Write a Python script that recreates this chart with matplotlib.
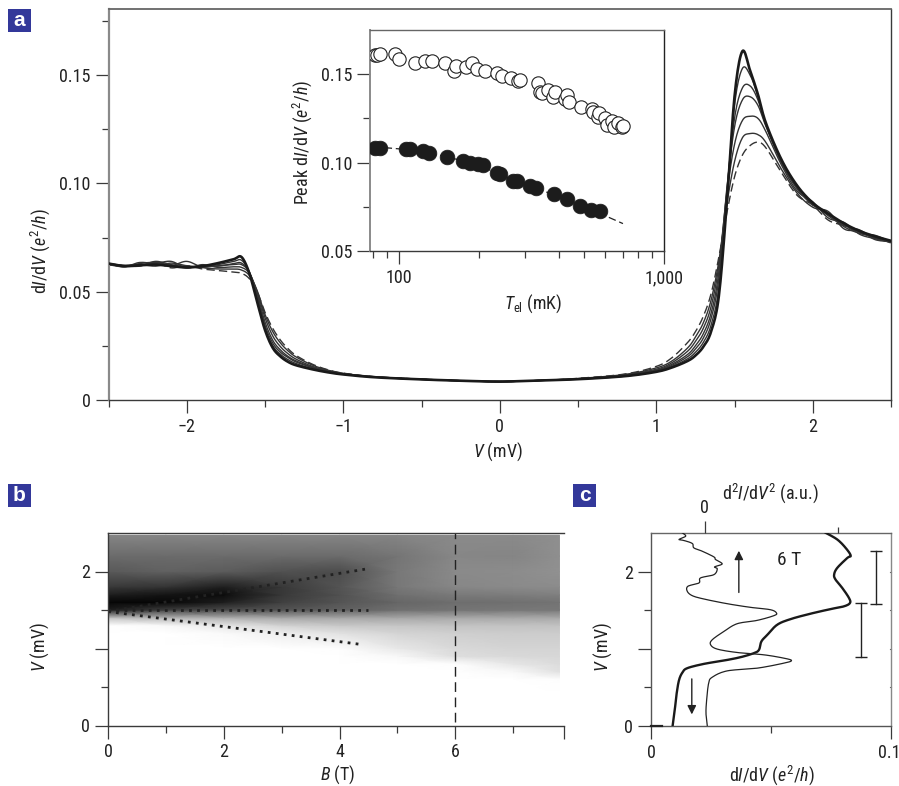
import numpy as np
import matplotlib
matplotlib.use("Agg")
import matplotlib.pyplot as plt
from matplotlib import font_manager
from matplotlib.patches import Rectangle
from matplotlib.ticker import FixedLocator, NullFormatter
from matplotlib.transforms import ScaledTranslation

installed = {f.name for f in font_manager.fontManager.ttflist}
BASE = 'Liberation Sans'
for cand in ['Liberation Sans Narrow', 'Roboto Condensed', 'Open Sans Condensed', 'Noto Sans Condensed']:
    if cand in installed:
        BASE = cand
        break
plt.rcParams['font.family'] = [BASE, 'Liberation Sans', 'DejaVu Sans']
plt.rcParams['mathtext.fontset'] = 'custom'
plt.rcParams['mathtext.rm'] = BASE
plt.rcParams['mathtext.it'] = BASE + ':italic'
plt.rcParams['mathtext.bf'] = BASE + ':bold'

# ---------- Panel a: dI/dV vs V for several temperatures ----------
V_a = [-2.5, -2.4, -2.3, -2.2, -2.1, -2.0, -1.9, -1.8, -1.7, -1.65, -1.6, -1.55, -1.5, -1.45, -1.4, -1.35,
       -1.3, -1.2, -1.1, -1.0, -0.8, -0.5, -0.25, 0, 0.25, 0.5, 0.8, 1.0, 1.1, 1.2, 1.25, 1.3, 1.35, 1.4,
       1.45, 1.5, 1.55, 1.6, 1.65, 1.7, 1.8, 1.9, 2.0, 2.1, 2.2, 2.3, 2.4, 2.5]
curve1 = [.0630, .0618, .0622, .0625, .0618, .0612, .0618, .0632, .0650, .0660, .0585, .0452, .0323, .0240, .0200, .0175,
          .0160, .0142, .0128, .0118, .0105, .0095, .0089, .0085, .0090, .0096, .0110, .0130, .0150, .0180, .0205, .0245, .0315, .0480,
          .0900, .1400, .1610, .1520, .1410, .1280, .1110, .0990, .0910, .0860, .0815, .0780, .0755, .0735]
curve2 = [.0628, .0622, .0626, .0618, .0632, .0620, .0615, .0625, .0640, .0645, .0590, .0465, .0330, .0250, .0210, .0185,
          .0168, .0145, .0130, .0119, .0105, .0095, .0089, .0085, .0090, .0096, .0110, .0132, .0155, .0190, .0220, .0265, .0345, .0520,
          .0930, .1360, .1530, .1500, .1400, .1275, .1105, .0985, .0905, .0855, .0810, .0775, .0750, .0732]
curve3 = [.0625, .0615, .0630, .0635, .0622, .0610, .0620, .0618, .0630, .0632, .0590, .0478, .0345, .0262, .0220, .0195,
          .0175, .0150, .0132, .0120, .0106, .0095, .0089, .0085, .0090, .0097, .0112, .0135, .0160, .0200, .0235, .0285, .0375, .0560,
          .0960, .1300, .1440, .1450, .1385, .1270, .1100, .0980, .0910, .0850, .0805, .0785, .0745, .0735]
curve4 = [.0630, .0620, .0618, .0640, .0625, .0615, .0612, .0620, .0625, .0625, .0590, .0490, .0360, .0275, .0230, .0200,
          .0180, .0152, .0134, .0121, .0106, .0095, .0089, .0085, .0090, .0098, .0114, .0138, .0165, .0210, .0250, .0305, .0400, .0590,
          .0970, .1260, .1385, .1400, .1360, .1265, .1095, .0975, .0900, .0860, .0800, .0770, .0760, .0730]
curve5 = [.0625, .0618, .0625, .0630, .0640, .0610, .0625, .0612, .0615, .0612, .0585, .0500, .0380, .0295, .0245, .0212,
          .0188, .0156, .0136, .0122, .0107, .0096, .0089, .0085, .0090, .0098, .0116, .0142, .0172, .0225, .0270, .0330, .0430, .0620,
          .0950, .1180, .1290, .1310, .1300, .1240, .1085, .0965, .0915, .0840, .0820, .0765, .0745, .0728]
curve6 = [.0630, .0615, .0635, .0628, .0620, .0640, .0612, .0605, .0605, .0600, .0575, .0505, .0395, .0315, .0262, .0225,
          .0198, .0162, .0138, .0123, .0107, .0096, .0089, .0085, .0090, .0099, .0118, .0148, .0180, .0240, .0290, .0355, .0460, .0640,
          .0900, .1100, .1210, .1230, .1225, .1190, .1065, .0955, .0890, .0870, .0790, .0780, .0740, .0732]
curve7 = [.0625, .0620, .0620, .0635, .0610, .0620, .0605, .0598, .0590, .0585, .0560, .0500, .0405, .0330, .0275, .0235,
          .0205, .0166, .0140, .0124, .0108, .0096, .0089, .0085, .0090, .0100, .0120, .0155, .0195, .0265, .0315, .0385, .0490, .0660,
          .0860, .1030, .1130, .1175, .1190, .1165, .1050, .0945, .0900, .0830, .0805, .0770, .0750, .0725]

# ---------- Inset ----------
T_open = [81.2, 82.8, 84.8, 96.6, 100.3, 115.2, 125.3, 133.6, 149.6, 161.2, 163.6, 179, 188, 197.5, 211, 235, 245.5,
          264, 282, 286, 335, 339, 347.5, 366, 382, 388, 423, 429, 438, 486, 533, 538, 562, 570, 599, 611, 635, 648,
          673, 692, 702]
G_open = [.1606, .1609, .1615, .1613, .1585, .1562, .1572, .1572, .1562, .1519, .1547, .1543, .1562, .1532, .1517,
          .1504, .1491, .1477, .1464, .1468, .1449, .1398, .1396, .1411, .1370, .1402, .1358, .1383, .1345, .1317,
          .1302, .1289, .1257, .1279, .1251, .1213, .1236, .1204, .1223, .1200, .1208]
T_full = [81.2, 84.8, 106.3, 110, 123.5, 130, 151.3, 175, 185.3, 199.3, 208, 233.7, 240.5, 270, 278, 312, 329, 384.5,
          429, 482, 529, 574]
G_full = [.1085, .1085, .1075, .1075, .1068, .1053, .1034, .1011, .1000, .0991, .0987, .0940, .0936, .0898, .0894,
          .0868, .0855, .0823, .0792, .0757, .0732, .0726]
T_fit = [80, 105, 150, 200, 280, 390, 530, 700]
G_fit = [.1090, .1075, .1035, .0985, .0890, .0815, .0735, .0655]

# ---------- Panel b ----------
B_grid = [0, 1, 2, 3, 4, 5, 6, 7, 7.8]
V_grid = [0, 0.4, 0.6, 0.7, 0.8, 0.9, 1.0, 1.2, 1.3, 1.4, 1.5, 1.6, 1.7, 1.8, 2.0, 2.2, 2.47]
gray_rows = [
    [1.00, 1.00, 1.00, 1.00, 1.00, 1.00, 1.00, 1.00, 1.00],
    [1.00, 1.00, 1.00, 1.00, 1.00, 1.00, 1.00, 1.00, 1.00],
    [1.00, 1.00, 1.00, 1.00, 1.00, 1.00, 1.00, 1.00, 0.99],
    [1.00, 1.00, 1.00, 1.00, 1.00, 1.00, 1.00, 0.97, 0.88],
    [1.00, 1.00, 1.00, 1.00, 1.00, 1.00, 0.99, 0.90, 0.86],
    [1.00, 1.00, 1.00, 1.00, 1.00, 0.97, 0.87, 0.85, 0.84],
    [1.00, 1.00, 1.00, 1.00, 0.99, 0.91, 0.85, 0.83, 0.83],
    [1.00, 1.00, 0.98, 0.93, 0.88, 0.83, 0.81, 0.80, 0.80],
    [1.00, 0.97, 0.90, 0.82, 0.78, 0.77, 0.76, 0.76, 0.76],
    [0.75, 0.70, 0.68, 0.65, 0.65, 0.65, 0.66, 0.66, 0.66],
    [0.12, 0.25, 0.30, 0.33, 0.38, 0.44, 0.46, 0.47, 0.47],
    [0.02, 0.03, 0.12, 0.25, 0.33, 0.40, 0.43, 0.44, 0.45],
    [0.12, 0.08, 0.05, 0.22, 0.32, 0.44, 0.48, 0.49, 0.50],
    [0.22, 0.20, 0.12, 0.22, 0.33, 0.47, 0.53, 0.54, 0.55],
    [0.35, 0.38, 0.36, 0.32, 0.30, 0.47, 0.54, 0.55, 0.57],
    [0.42, 0.42, 0.42, 0.42, 0.42, 0.46, 0.53, 0.52, 0.56],
    [0.52, 0.52, 0.52, 0.52, 0.52, 0.52, 0.54, 0.54, 0.56],
]
B_upper = [0, 4.44]
V_upper = [1.48, 2.03]
B_mid = [0, 4.5]
V_mid = [1.5, 1.5]
B_lower = [0, 4.4]
V_lower = [1.48, 1.05]
B_cut = [6, 6]
V_cut = [0.05, 2.5]

# ---------- Panel c ----------
G_c = [.0090, .0099, .0107, .0117, .0131, .0151, .0221, .0304, .0374, .0429, .0450, .0460, .0485, .0526, .0582, .0665,
       .0749, .0804, .0829, .0825, .0797, .0769, .0763, .0776, .0818, .0832, .0811, .0776, .0728]
V_c = [0, .208, .424, .597, .693, .749, .805, .848, .892, .944, .987, 1.095, 1.182, 1.312, 1.385, 1.455,
       1.515, 1.550, 1.593, 1.658, 1.788, 1.896, 1.961, 2.048, 2.177, 2.208, 2.307, 2.416, 2.502]
D_c = [.018, .008, .013, .028, .055, .168, .393, .594, .652, .594, .444, .243, .093, .043, .055, .143, .243, .393,
       .519, .539, .494, .343, .168, -.008, -.095, -.133, -.128, -.045, -.033, .068, .093, .073, .130, .080, .068,
       -.020, -.083, -.095, -.158, -.195, -.145, -.170]
V_d = [0, .165, .338, .554, .632, .714, .749, .814, .848, .879, .922, .952, .996, 1.052, 1.117, 1.225, 1.325, 1.368,
       1.429, 1.463, 1.506, 1.537, 1.584, 1.645, 1.688, 1.745, 1.810, 1.853, 1.918, 1.961, 2.035, 2.061, 2.100, 2.156,
       2.190, 2.264, 2.307, 2.364, 2.403, 2.416, 2.459, 2.502]
bar_upper = [1.58, 2.264]
bar_lower = [0.90, 1.593]
bar_upper_x = [.0939, .0939]
bar_lower_x = [.0874, .0874]

W, H = 899, 786
fig = plt.figure(figsize=(W / 100, H / 100), dpi=100)
DK = '#3a3a3a'
GR = '#8a8a8a'
TXT = '#222222'
FS = 13


def px_axes(l, t, r, b, **kw):
    return fig.add_axes([l / W, 1 - b / H, (r - l) / W, (b - t) / H], **kw)


def smooth(x, y, n=10):
    """Catmull-Rom path through the read points (drawing only)."""
    p = np.column_stack([x, y]).astype(float)
    q = np.vstack([p[0], p, p[-1]])
    t = np.linspace(0, 1, n, endpoint=False)[:, None]
    out = []
    for i in range(1, len(q) - 2):
        a, b, c, d = q[i - 1], q[i], q[i + 1], q[i + 2]
        out.append(0.5 * (2 * b + (c - a) * t + (2 * a - 5 * b + 4 * c - d) * t ** 2 + (3 * b - a - 3 * c + d) * t ** 3))
    out.append(p[-1:])
    out = np.vstack(out)
    return out[:, 0], out[:, 1]


def pt(px):
    return px * 0.72


def style(ax, c=DK):
    for s in ax.spines.values():
        s.set_color(c)
        s.set_linewidth(1.0)
    ax.tick_params(which='major', length=pt(13), width=0.9, color=DK, labelsize=FS, labelcolor=TXT, pad=3.5)
    ax.tick_params(which='minor', length=pt(7), width=0.9, color=DK)


def badge(x, y, s):
    fig.patches.append(Rectangle((x / W, 1 - (y + 23) / H), 23 / W, 23 / H, transform=fig.transFigure,
                                 facecolor='#33389a', edgecolor='none'))
    fig.text((x + 11.5) / W, 1 - (y + 11.5) / H, s, color='white', fontsize=15, fontweight='bold',
             family=['Liberation Sans', 'DejaVu Sans'], ha='center', va='center')


# ---------- a ----------
ax = px_axes(108.5, 9, 891, 400)
for c in [curve6, curve5, curve4, curve3, curve2]:
    sx, sy = smooth(V_a, c)
    ax.plot(sx, sy, color='#333333', lw=1.0, zorder=2)
sx, sy = smooth(V_a, curve7)
ax.plot(sx, sy, color='#333333', lw=1.0, dashes=(6, 3), zorder=2)
sx, sy = smooth(V_a, curve1)
ax.plot(sx, sy, color='#1a1a1a', lw=1.9, zorder=3)
ax.set_xlim(-2.5, 2.5)
ax.set_ylim(0, 391 / 2166)
style(ax)
ax.spines['left'].set_color(GR)
ax.spines['left'].set_linewidth(1.6)
ax.spines['top'].set_color('#666666')
ax.spines['top'].set_linewidth(1.3)
ax.set_xticks([-2, -1, 0, 1, 2])
ax.set_xticklabels(['\u22122', '\u22121', '0', '1', '2'])
ax.xaxis.set_minor_locator(FixedLocator([-2.5, -1.5, -0.5, 0.5, 1.5, 2.5]))
ax.set_yticks([0, 0.05, 0.10, 0.15])
ax.set_yticklabels(['0', '0.05', '0.10', '0.15'])
ax.yaxis.set_minor_locator(FixedLocator([0.025, 0.075, 0.125, 0.175]))
ax.set_xlabel(r'$\mathit{V}$ (mV)', fontsize=FS, color=TXT)
ax.xaxis.set_label_coords((498 - 108.5) / 782.5, -(452 - 400) / 391, transform=ax.transAxes)
ax.xaxis.label.set_va('center')
ax.set_ylabel(r'd$\mathit{I}$/d$\mathit{V}$ ($\mathit{e}^{2}$/$\mathit{h}$)', fontsize=FS, color=TXT)
ax.yaxis.set_label_coords(-(108.5 - 40) / 782.5, (400 - 251) / 391, transform=ax.transAxes)
ax.yaxis.label.set_va('center')

# ---------- inset ----------
ins = px_axes(370, 30, 664, 251)
ins.set_xscale('log')
ins.plot(T_fit, G_fit, color=TXT, lw=0.9, dashes=(6, 3), zorder=2)
ins.plot(T_open, G_open, ls='none', marker='o', ms=9.6, mfc='white', mec=TXT, mew=0.8, zorder=3)
ins.plot(T_full, G_full, ls='none', marker='o', ms=10.6, mfc='#1c1c1c', mec='#1c1c1c', mew=0.5, zorder=3)
ins.set_xlim(77.7, 1000)
ins.set_ylim(0.05, 0.175)
style(ins)
ins.spines['left'].set_color(GR)
ins.spines['left'].set_linewidth(1.4)
ins.spines['top'].set_color('#666666')
ins.spines['right'].set_color(TXT)
ins.set_xticks([100, 1000])
ins.set_xticklabels(['100', '1,000'])
ins.xaxis.set_minor_locator(FixedLocator([80, 90, 200, 300, 400, 500, 600, 700, 800, 900]))
ins.xaxis.set_minor_formatter(NullFormatter())
ins.set_yticks([0.05, 0.10, 0.15])
ins.set_yticklabels(['0.05', '0.10', '0.15'])
ins.yaxis.set_minor_locator(FixedLocator([0.075, 0.125]))
ins.set_xlabel(r'$\mathit{T}_{\mathrm{el}}$ (mK)', fontsize=FS, color=TXT)
ins.xaxis.set_label_coords((533 - 370) / 294, -(304 - 251) / 221, transform=ins.transAxes)
ins.xaxis.label.set_va('center')
ins.set_ylabel(r'Peak d$\mathit{I}$/d$\mathit{V}$ ($\mathit{e}^{2}$/$\mathit{h}$)', fontsize=FS, color=TXT)
ins.yaxis.set_label_coords(-(370 - 302) / 294, (251 - 142) / 221, transform=ins.transAxes)
ins.yaxis.label.set_va('center')

# ---------- b ----------
bx = px_axes(108, 533, 563.5, 725.5)
bx.pcolormesh(B_grid, V_grid, np.array(gray_rows), cmap='gray', vmin=0, vmax=1, shading='gouraud', zorder=1)
bx.plot(B_upper, V_upper, color=TXT, lw=2.0, dashes=(1, 1.9), zorder=2)
bx.plot(B_mid, V_mid, color=TXT, lw=2.0, dashes=(1, 1.9), zorder=2)
bx.plot(B_lower, V_lower, color=TXT, lw=2.0, dashes=(1, 1.9), zorder=2)
bx.plot(B_cut, V_cut, color=TXT, lw=1.0, dashes=(7, 4), zorder=2)
bx.set_xlim(0, 7.87)
bx.set_ylim(0, 2.5)
style(bx)
bx.spines['right'].set_visible(False)
bx.set_xticks([0, 2, 4, 6, 7.87])
bx.set_xticklabels(['0', '2', '4', '6', ''])
bx.xaxis.set_minor_locator(FixedLocator([1, 3, 5, 7]))
bx.set_yticks([0, 1, 2])
bx.set_yticklabels(['0', '', '2'])
bx.yaxis.set_minor_locator(FixedLocator([0.5, 1.5]))
bx.set_xlabel(r'$\mathit{B}$ (T)', fontsize=FS, color=TXT)
bx.xaxis.set_label_coords((338 - 108) / 455.5, -(775 - 725.5) / 192.5, transform=bx.transAxes)
bx.xaxis.label.set_va('center')
bx.set_ylabel(r'$\mathit{V}$ (mV)', fontsize=FS, color=TXT)
bx.yaxis.set_label_coords(-(108 - 40) / 455.5, (725.5 - 647) / 192.5, transform=bx.transAxes)
bx.yaxis.label.set_va('center')

# ---------- c ----------
cx = px_axes(651, 533, 891, 726)
sx, sy = smooth(G_c, V_c)
cx.plot(sx, sy, color='#1a1a1a', lw=1.7, zorder=3)
cx.plot(bar_upper_x, bar_upper, color=TXT, lw=1.0, marker='_', ms=8, mew=1.0)
cx.plot(bar_lower_x, bar_lower, color=TXT, lw=1.0, marker='_', ms=8, mew=1.0)
cx.set_xlim(0, 0.1)
cx.set_ylim(0, 2.5)
style(cx, '#555555')
cx.spines['top'].set_color('#666666')
cx.spines['right'].set_color('#888888')
cx.set_xticks([0, 0.1])
cx.set_xticklabels(['0', '0.1'])
cx.get_xticklabels()[1].set_transform(cx.get_xticklabels()[1].get_transform()
                                      + ScaledTranslation(-2 / 100, 0, fig.dpi_scale_trans))
cx.xaxis.set_minor_locator(FixedLocator([0.05]))
cx.set_yticks([0, 1, 2])
cx.set_yticklabels(['0', '', '2'])
cx.yaxis.set_minor_locator(FixedLocator([0.5, 1.5]))
cx.tick_params(axis='y', which='both', right=False)
for v in [0.5, 1, 1.5, 2]:
    cx.plot([0.0995, 0.1], [v, v], color='#666666', lw=0.8, clip_on=False)
cx.plot([0, 0.0047], [0, 0], color=TXT, lw=1.6, zorder=4, clip_on=False)
cx.set_xlabel(r'd$\mathit{I}$/d$\mathit{V}$ ($\mathit{e}^{2}$/$\mathit{h}$)', fontsize=FS, color=TXT)
cx.xaxis.set_label_coords((772 - 651) / 240, -(775 - 726) / 193, transform=cx.transAxes)
cx.xaxis.label.set_va('center')
cx.set_ylabel(r'$\mathit{V}$ (mV)', fontsize=FS, color=TXT)
cx.yaxis.set_label_coords(-(651 - 603) / 240, (726 - 647) / 193, transform=cx.transAxes)
cx.yaxis.label.set_va('center')
cx.annotate('', xy=(0.0366, 2.27), xytext=(0.0366, 1.73),
            arrowprops=dict(arrowstyle='-|>', color=TXT, lw=1.0, mutation_scale=13, shrinkA=0, shrinkB=0))
cx.annotate('', xy=(0.0170, 0.15), xytext=(0.0170, 0.61),
            arrowprops=dict(arrowstyle='-|>', color=TXT, lw=1.0, mutation_scale=13, shrinkA=0, shrinkB=0))
cx.text(0.0575, 2.15, '6 T', fontsize=FS + 1, color=TXT, ha='center', va='center')

tx = cx.twiny()
sx, sy = smooth(D_c, V_d)
tx.plot(sx, sy, color=TXT, lw=0.9, zorder=2)
tx.set_xlim(-0.406, 1.401)
tx.set_ylim(0, 2.5)
for s in tx.spines.values():
    s.set_visible(False)
tx.set_xticks([0])
tx.set_xticklabels(['0'])
tx.xaxis.set_minor_locator(FixedLocator([1]))
tx.xaxis.set_minor_formatter(NullFormatter())
tx.tick_params(axis='x', which='major', length=pt(12), width=0.9, color=DK, labelsize=FS, labelcolor=TXT, pad=3)
tx.tick_params(axis='x', which='minor', length=pt(6), width=0.9, color=DK)
fig.text(770 / W, 1 - 493 / H, r'd$^{2}$$\mathit{I}$/d$\mathit{V}^{2}$ (a.u.)', fontsize=FS, color=TXT,
         ha='center', va='center')

badge(8, 9, 'a')
badge(8, 484, 'b')
badge(573, 484, 'c')

fig.savefig('out.png', dpi=100, facecolor='white')
